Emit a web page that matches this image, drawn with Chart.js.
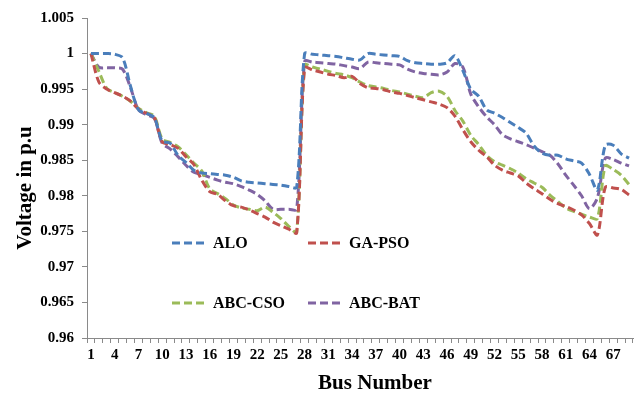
<!DOCTYPE html>
<html>
<head>
<meta charset="utf-8">
<script src="https://cdn.jsdelivr.net/npm/chart.js@4.4.1/dist/chart.umd.min.js"></script>
<style>
  html, body { margin: 0; padding: 0; background: #fff; }
  #wrap { width: 640px; height: 398px; }
</style>
</head>
<body>
<div id="wrap"><canvas id="chart" width="640" height="398"></canvas></div>
<script>
// === DATOS ===
const buses = Array.from({ length: 69 }, (_, i) => String(i + 1));

const alo = [
  1.0000, 1.0000, 1.0000, 0.9999, 0.9994, 0.9954, 0.9921, 0.9916, 0.9910, 0.9877,
  0.9874, 0.9857, 0.9847, 0.9836, 0.9832, 0.9831, 0.9830, 0.9829, 0.9826, 0.9821,
  0.9819, 0.9818, 0.9817, 0.9816, 0.9815, 0.9813, 0.9812,
  1.0000, 0.9999, 0.9998, 0.9997, 0.9996, 0.9994, 0.9992, 0.9991, 1.0000, 0.9999,
  0.9998, 0.9997, 0.9996, 0.9990, 0.9987, 0.9986, 0.9985, 0.9985, 0.9987, 0.9997,
  0.9976, 0.9950, 0.9940, 0.9921, 0.9916, 0.9910, 0.9903, 0.9896, 0.9888, 0.9870,
  0.9860, 0.9857, 0.9857, 0.9852, 0.9849, 0.9846, 0.9830, 0.9808, 0.9871, 0.9871,
  0.9859, 0.9853
];

const gaPso = [
  1.0000, 0.9960, 0.9950, 0.9945, 0.9940, 0.9933, 0.9922, 0.9916, 0.9910, 0.9876,
  0.9872, 0.9867, 0.9855, 0.9844, 0.9822, 0.9806, 0.9802, 0.9793, 0.9786, 0.9784,
  0.9780, 0.9775, 0.9770, 0.9763, 0.9758, 0.9753, 0.9748,
  0.9980, 0.9977, 0.9974, 0.9971, 0.9969, 0.9966, 0.9968, 0.9958, 0.9952, 0.9951,
  0.9949, 0.9946, 0.9944, 0.9941, 0.9938, 0.9935, 0.9932, 0.9929, 0.9924, 0.9912,
  0.9893, 0.9876, 0.9864, 0.9855, 0.9843, 0.9836, 0.9832, 0.9828, 0.9818, 0.9810,
  0.9803, 0.9795, 0.9789, 0.9785, 0.9780, 0.9773, 0.9761, 0.9745, 0.9812, 0.9811,
  0.9809, 0.9801
];

const abcCso = [
  1.0000, 0.9975, 0.9951, 0.9945, 0.9940, 0.9933, 0.9923, 0.9917, 0.9912, 0.9880,
  0.9875, 0.9869, 0.9858, 0.9846, 0.9835, 0.9810, 0.9803, 0.9796, 0.9787, 0.9783,
  0.9781, 0.9779, 0.9784, 0.9777, 0.9768, 0.9757, 0.9749,
  0.9984, 0.9981, 0.9978, 0.9975, 0.9972, 0.9970, 0.9966, 0.9960, 0.9955, 0.9953,
  0.9951, 0.9948, 0.9946, 0.9943, 0.9940, 0.9938, 0.9945, 0.9947, 0.9940, 0.9920,
  0.9905, 0.9885, 0.9872, 0.9857, 0.9848, 0.9843, 0.9838, 0.9832, 0.9824, 0.9818,
  0.9812, 0.9801, 0.9792, 0.9783, 0.9778, 0.9774, 0.9770, 0.9768, 0.9842, 0.9837,
  0.9829, 0.9816
];

const abcBat = [
  1.0000, 0.9981, 0.9980, 0.9980, 0.9978, 0.9952, 0.9921, 0.9914, 0.9909, 0.9874,
  0.9866, 0.9855, 0.9843, 0.9833, 0.9830, 0.9826, 0.9822, 0.9819, 0.9817, 0.9813,
  0.9808, 0.9802, 0.9793, 0.9781, 0.9781, 0.9781, 0.9781,
  0.9989, 0.9988, 0.9987, 0.9986, 0.9985, 0.9983, 0.9981, 0.9979, 0.9988, 0.9987,
  0.9986, 0.9985, 0.9984, 0.9978, 0.9974, 0.9972, 0.9971, 0.9970, 0.9974, 0.9986,
  0.9981, 0.9943, 0.9925, 0.9911, 0.9900, 0.9886, 0.9880, 0.9876, 0.9872, 0.9867,
  0.9862, 0.9857, 0.9845, 0.9829, 0.9815, 0.9800, 0.9782, 0.9797, 0.9853, 0.9851,
  0.9846, 0.9842
];

const series = [
  { label: 'ALO', data: alo, color: '#4A7EBB' },
  { label: 'GA-PSO', data: gaPso, color: '#C0504D' },
  { label: 'ABC-CSO', data: abcCso, color: '#9BBB59' },
  { label: 'ABC-BAT', data: abcBat, color: '#8064A2' }
];

const fuente = '"Liberation Serif", "Times New Roman", serif';
const guion = [8, 4];

// leyenda dentro del área del gráfico y títulos de los ejes
const extras = {
  id: 'extras',
  afterDraw(chart) {
    const { ctx } = chart;
    const sitios = [[172, 243], [308, 243], [172, 303], [308, 303]];
    ctx.save();
    ctx.font = 'bold 16px ' + fuente;
    ctx.textBaseline = 'middle';
    series.forEach((s, i) => {
      const [x, y] = sitios[i];
      ctx.strokeStyle = s.color;
      ctx.lineWidth = 3;
      ctx.setLineDash(guion);
      ctx.beginPath();
      ctx.moveTo(x, y);
      ctx.lineTo(x + 36, y);
      ctx.stroke();
      ctx.setLineDash([]);
      ctx.fillStyle = '#000';
      ctx.fillText(s.label, x + 41, y + 1);
    });

    ctx.font = 'bold 21px ' + fuente;
    ctx.textAlign = 'center';
    ctx.fillText('Bus Number', 375, 384);
    ctx.translate(26, 188);
    ctx.rotate(-Math.PI / 2);
    ctx.fillText('Voltage in p.u', 0, 0);
    ctx.restore();
  }
};

new Chart(document.getElementById('chart'), {
  type: 'line',
  data: {
    labels: buses,
    datasets: series.map(s => ({
      label: s.label,
      data: s.data,
      borderColor: s.color,
      backgroundColor: s.color,
      borderWidth: 3,
      borderDash: guion,
      pointRadius: 0,
      tension: 0.3,
      fill: false
    }))
  },
  options: {
    responsive: false,
    animation: false,
    layout: { padding: { top: 18, right: 7, left: 0, bottom: 0 } },
    plugins: { legend: { display: false }, tooltip: { enabled: false } },
    scales: {
      x: {
        offset: true,
        border: { color: '#8a8a8a', width: 1 },
        grid: { drawOnChartArea: false, drawTicks: true, tickLength: 5, offset: true, color: '#8a8a8a' },
        ticks: {
          autoSkip: false,
          maxRotation: 0,
          color: '#000',
          padding: 3,
          font: { family: fuente, size: 15, weight: 'bold' },
          callback: (v, i) => (i % 3 === 0 ? buses[i] : '')
        },
        afterFit: s => { s.height = 60; }
      },
      y: {
        min: 0.96,
        max: 1.005,
        border: { color: '#8a8a8a', width: 1 },
        grid: { drawOnChartArea: false, drawTicks: true, tickLength: 5, color: '#8a8a8a' },
        ticks: {
          stepSize: 0.005,
          color: '#000',
          padding: 8,
          font: { family: fuente, size: 15, weight: 'bold' },
          callback: v => String(parseFloat(Number(v).toFixed(3)))
        },
        afterFit: s => { s.width = 87; }
      }
    }
  },
  plugins: [extras]
});
</script>
</body>
</html>
